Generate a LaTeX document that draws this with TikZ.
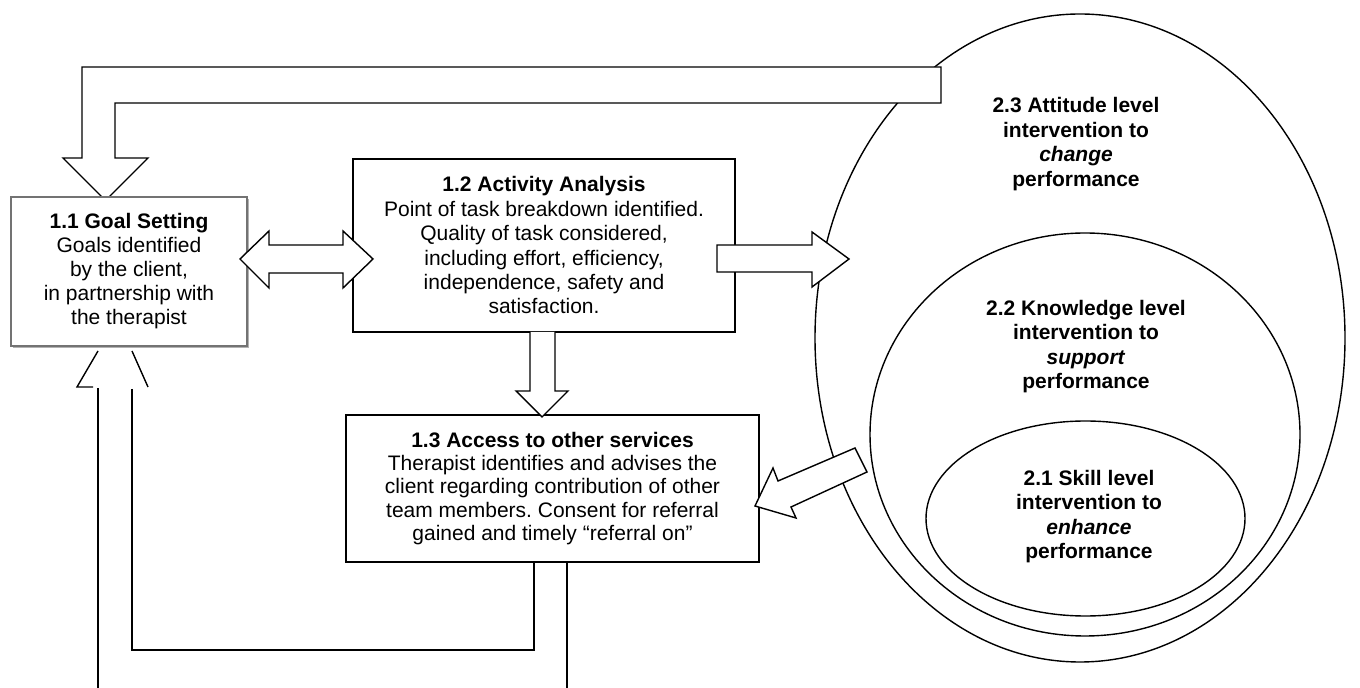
\documentclass[tikz,border=0pt]{standalone}
\usepackage{fontspec}
\setmainfont{Liberation Sans}
\usetikzlibrary{shapes.geometric,shadows}
\frenchspacing
\begin{document}
\begin{tikzpicture}[x=0.5pt,y=-0.5pt,
  blk/.style={draw=black,line width=0.7pt,fill=white,line join=miter},
  ln/.style={draw=black,line width=0.7pt},
  bx/.style={draw=black,line width=1pt,fill=white,inner sep=0pt,outer sep=0pt,align=center,font=\fontsize{10.5}{12.2}\selectfont},
  goalbox/.style={draw=black!55,line width=0.9pt,fill=white,inner sep=0pt,outer sep=0pt,align=center,
     font=\fontsize{10.5}{12}\selectfont,
     drop shadow={shadow xshift=1.2pt,shadow yshift=-1.2pt,opacity=0.3,fill=black}},
  ell/.style={draw=black,line width=0.7pt,ellipse,inner sep=0pt,outer sep=0pt},
  etxt/.style={align=center,font=\fontsize{10.5}{12.25}\selectfont\bfseries,inner sep=0pt}
]
\useasboundingbox (0,0) rectangle (1360,688);
\fill[white] (0,0) rectangle (1360,688);

% nested ellipses
\node[ell,minimum width=265pt,minimum height=324pt] (e3) at (1080,338) {};
\node[ell,minimum width=215pt,minimum height=201.5pt] (e2) at (1085,434.5) {};
\node[ell,minimum width=159.5pt,minimum height=97.5pt] (e1) at (1085.5,518.5) {};
\node[etxt] (t3) at (1076,144) {2.3 Attitude level\\intervention to\\\textit{change}\\performance};
\node[etxt] (t2) at (1086,346.5) {2.2 Knowledge level\\intervention to\\\textit{support}\\performance};
\node[etxt] (t1) at (1089,516.5) {2.1 Skill level\\intervention to\\\textit{enhance}\\performance};

% top feedback arrow (from ellipse back to goal setting)
\draw[blk] (63,158) -- (82,158) -- (82,67) -- (941,67) -- (941,103) -- (115,103) -- (115,158) -- (148,158) -- (105.5,200.5) -- cycle;

% bottom feedback arrow (from 1.3 back to goal setting)
\draw[ln] (98,688) -- (98,388);
\draw[ln] (132,389) -- (132,650) -- (534,650) -- (534,562);
\draw[ln] (567,562) -- (567,688);
\draw[ln] (93,387) -- (77,387) -- (98,351);
\draw[ln] (132,351) -- (148,387);

% boxes
\node[goalbox,minimum width=118pt,minimum height=74.5pt] (g) at (129,271.5)
  {\textbf{1.1 Goal Setting}\\Goals identified\\by the client,\\in partnership with\\the therapist};
\node[bx,minimum width=191pt,minimum height=86.5pt] (a) at (544,245.5)
  {\textbf{1.2 Activity Analysis}\\Point of task breakdown identified.\\Quality of task considered,\\including effort, efficiency,\\independence, safety and\\satisfaction.};
\node[bx,minimum width=206.5pt,minimum height=73.5pt,font=\fontsize{10.5}{11.6}\selectfont] (s) at (552.5,488.5)
  {\textbf{1.3 Access to other services}\\Therapist identifies and advises the\\client regarding contribution of other\\team members. Consent for referral\\gained and timely “referral on”};

% down arrow 1.2 -> 1.3
\draw[blk] (530,332) -- (530,391) -- (516,391) -- (542,417) -- (568,391) -- (555,391) -- (555,332);

% double arrow 1.1 <-> 1.2
\draw[blk] (240,259) -- (269,231) -- (269,245) -- (343,245) -- (343,231) -- (373,259) -- (343,288) -- (343,273) -- (269,273) -- (269,288) -- cycle;

% arrow 1.2 -> ellipses
\draw[blk] (717,245) -- (812,245) -- (812,232) -- (849,259) -- (812,287) -- (812,272) -- (717,272) -- cycle;

% arrow ellipses -> 1.3
\draw[blk] (855,448) -- (778,481) -- (773,468) -- (755,506) -- (796,518) -- (791,507) -- (867,472) -- cycle;
\end{tikzpicture}
\end{document}
